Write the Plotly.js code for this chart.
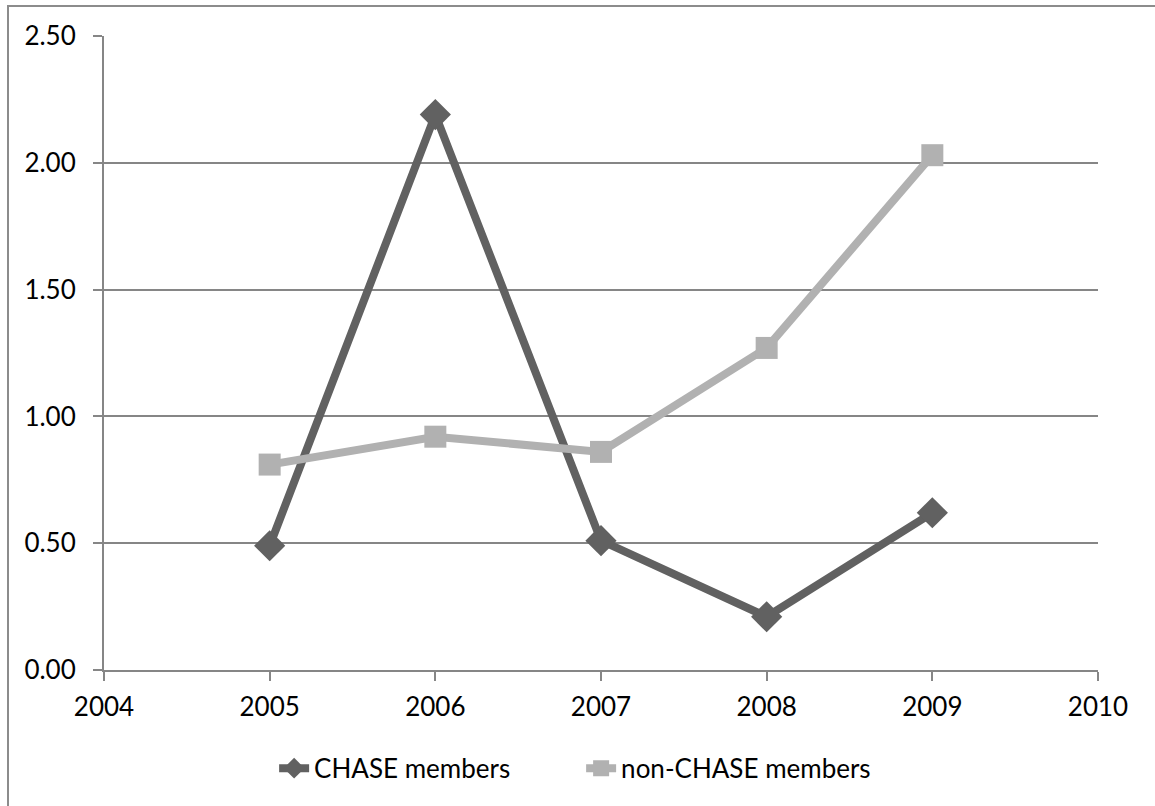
<!DOCTYPE html>
<html>
<head>
<meta charset="utf-8">
<script src="https://cdn.plot.ly/plotly-3.0.1.min.js"></script>
<style>
html,body{margin:0;padding:0;background:#fff;}
#wrap{position:relative;width:1155px;height:806px;overflow:hidden;}
#chart{width:1155px;height:806px;}
#frame{position:absolute;left:7px;top:5px;width:1160px;height:820px;border-left:2px solid #8c8c8c;border-top:2px solid #8c8c8c;pointer-events:none;box-sizing:border-box;}
</style>
</head>
<body>
<div id="wrap"><div id="chart"></div><div id="frame"></div></div>
<script>
const years = [2005, 2006, 2007, 2008, 2009];
const chaseMembers = [0.49, 2.19, 0.51, 0.21, 0.62];
const nonChaseMembers = [0.81, 0.92, 0.86, 1.27, 2.03];
const seriesNames = ['CHASE members', 'non-CHASE members'];
const xTicks = [2004, 2005, 2006, 2007, 2008, 2009, 2010];
const yTicks = [0, 0.5, 1.0, 1.5, 2.0, 2.5];

const data = [
  {x: years, y: chaseMembers, name: seriesNames[0], type: 'scatter', mode: 'lines+markers',
   line: {color: '#616161', width: 8}, marker: {symbol: 'diamond', size: 24, color: '#616161'}},
  {x: years, y: nonChaseMembers, name: seriesNames[1], type: 'scatter', mode: 'lines+markers',
   line: {color: '#b1b1b1', width: 8}, marker: {symbol: 'square', size: 22, color: '#b1b1b1'}}
];
const layout = {
  width: 1155, height: 806,
  margin: {l: 104, r: 57, t: 36, b: 136},
  paper_bgcolor: '#ffffff', plot_bgcolor: '#ffffff',
  font: {family: 'Lato, "Open Sans", sans-serif', size: 26, color: '#000'},
  showlegend: true,
  legend: {orientation: 'h', x: 0.48, xanchor: 'center', y: -0.155, yanchor: 'middle',
           font: {size: 26}, tracegroupgap: 0, entrywidth: 262},
  xaxis: {range: [2004, 2010], tickvals: xTicks, ticktext: xTicks.map(String),
          showgrid: false, zeroline: false, showline: true, linecolor: '#868686', linewidth: 2,
          ticks: 'outside', ticklen: 9, tickwidth: 2, tickcolor: '#868686',
          ticklabelstandoff: 4, fixedrange: true},
  yaxis: {range: [0, 2.5], tickvals: yTicks, ticktext: yTicks.map(v => v.toFixed(2)),
          showgrid: true, gridcolor: '#868686', gridwidth: 2, zeroline: false,
          showline: true, linecolor: '#868686', linewidth: 2,
          ticks: 'outside', ticklen: 9, tickwidth: 2, tickcolor: '#868686',
          ticklabelstandoff: 12, fixedrange: true}
};
Plotly.newPlot('chart', data, layout, {displayModeBar: false, staticPlot: true});
</script>
</body>
</html>
